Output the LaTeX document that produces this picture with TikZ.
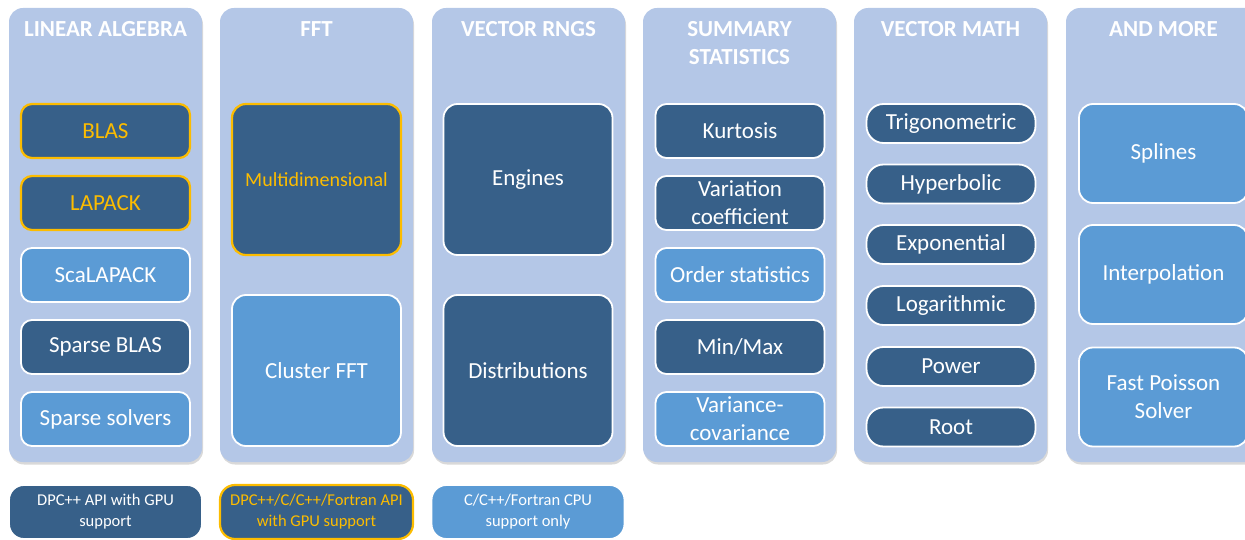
\documentclass[tikz,border=0pt]{standalone}
\usepackage{fontspec}
\setmainfont{Carlito}
\usetikzlibrary{shadows}
\definecolor{panel}{HTML}{B4C7E7}
\definecolor{deep}{HTML}{376089}
\definecolor{sky}{HTML}{5B9BD5}
\definecolor{gold}{HTML}{FCBC00}

\begin{document}
\begin{tikzpicture}[
  x=1pt, y=-1pt,
  column/.style={fill=panel, rounded corners=14pt, inner sep=0pt,
    minimum width=193pt, minimum height=454pt,
    drop shadow={opacity=.3, shadow xshift=1pt, shadow yshift=-2.5pt}},
  heading/.style={text=white, align=center, font=\fontsize{23}{28}\selectfont\bfseries},
  tile/.style={draw=white, line width=1.8pt, rounded corners=11pt, inner sep=0pt,
    text=white, align=center, font=\fontsize{23}{28}\selectfont,
    minimum width=169pt, minimum height=54pt},
  dark/.style={tile, fill=deep},
  light/.style={tile, fill=sky},
  gpu/.style={tile, fill=deep, draw=gold, text=gold, line width=2.2pt},
  block/.style={minimum height=151pt, rounded corners=14pt},
  pill/.style={dark, minimum height=39pt, rounded corners=17pt},
  wide/.style={minimum height=99pt, rounded corners=14pt},
  key/.style={minimum width=193pt, rounded corners=15pt, font=\fontsize{16.5}{21}\selectfont}
]
  \clip (0,0) rectangle (1245,540);
  \node[column] (linalg) at (105.5,235) {};
  \node[column] (fft) at (316.5,235) {};
  \node[column] (rngs) at (528.5,235) {};
  \node[column] (stats) at (739.5,235) {};
  \node[column] (vmath) at (950.5,235) {};
  \node[column] (more) at (1162.5,235) {};

  \node[heading] (linalgtitle) at (105.5,29) {LINEAR ALGEBRA};
  \node[heading] (ffttitle) at (316.5,29) {FFT};
  \node[heading] (rngstitle) at (528.5,29) {VECTOR RNGS};
  \node[heading] (statstitle) at (739.5,43) {SUMMARY\\STATISTICS};
  \node[heading] (vmathtitle) at (950.5,29) {VECTOR MATH};
  \node[heading] (moretitle) at (1163.5,29) {AND MORE};

  \node[gpu] (blas) at (105.5,131) {BLAS};
  \node[gpu] (lapack) at (105.5,203) {LAPACK};
  \node[light] (scalapack) at (105.5,275) {ScaLAPACK};
  \node[dark] (sparseblas) at (105.5,347) {Sparse BLAS};
  \node[light] (sparsesolvers) at (105.5,419) {Sparse solvers};

  \node[gpu, block, font=\fontsize{20}{24}\selectfont] (multidim) at (316.5,179.5) {Multidimensional};
  \node[light, block] (clusterfft) at (316.5,370.5) {Cluster FFT};

  \node[dark, block] (engines) at (528,179.5) {Engines};
  \node[dark, block] (distrib) at (528,370.5) {Distributions};

  \node[dark] (kurtosis) at (740,131) {Kurtosis};
  \node[dark] (variation) at (740,203) {Variation\\coefficient};
  \node[light] (orderstats) at (740,275) {Order statistics};
  \node[dark] (minmax) at (740,347) {Min/Max};
  \node[light] (varcov) at (740,419) {Variance-\\covariance};

  \node[pill] (trig) at (951,123.5) {Trigonometric};
  \node[pill] (hyper) at (951,184) {Hyperbolic};
  \node[pill] (expo) at (951,244.5) {Exponential};
  \node[pill] (logar) at (951,305.5) {Logarithmic};
  \node[pill] (power) at (951,366.5) {Power};
  \node[pill] (root) at (951,427) {Root};

  \node[light, wide] (splines) at (1163.5,153.5) {Splines};
  \node[light, wide] (interp) at (1163.5,274.5) {Interpolation};
  \node[light, wide] (poisson) at (1163.5,397) {Fast Poisson\\Solver};

  \node[dark, key] (keydpc) at (105.5,512) {DPC++ API with GPU\\support};
  \node[gpu, key] (keygold) at (316.5,512) {DPC++/C/C++/Fortran API\\with GPU support};
  \node[light, key] (keycpu) at (528,512) {C/C++/Fortran CPU\\support only};
\end{tikzpicture}
\end{document}
